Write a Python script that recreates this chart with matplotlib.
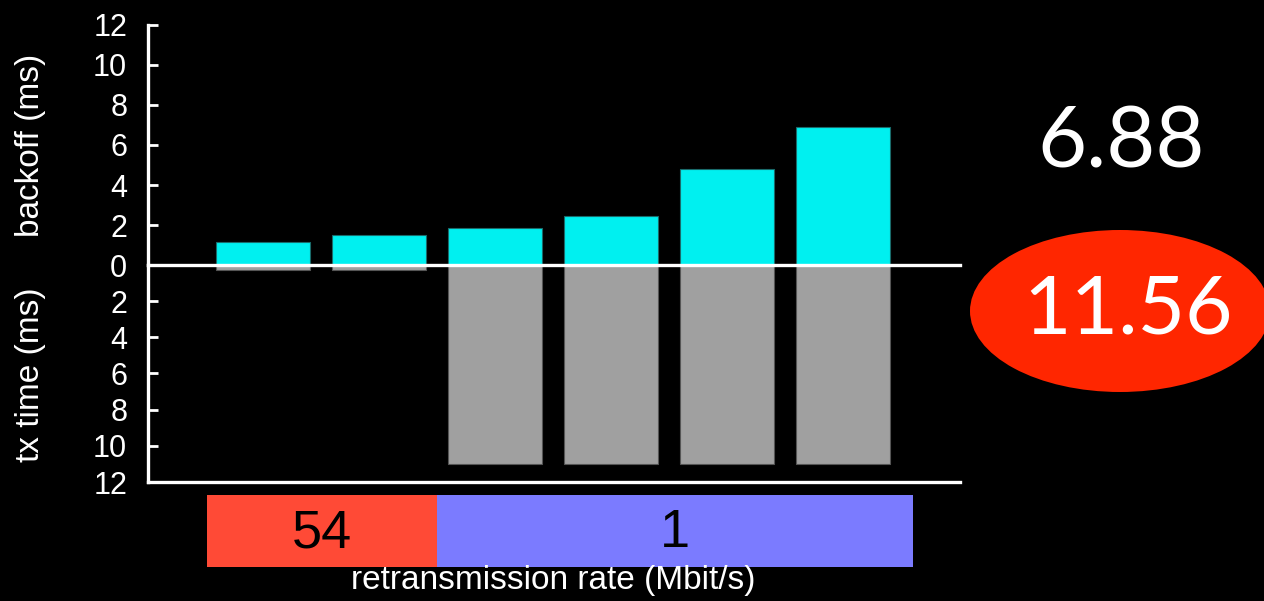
import matplotlib
matplotlib.use("Agg")
import matplotlib.pyplot as plt
from matplotlib.patches import Ellipse, Rectangle

# Per-attempt timings (ms)
attempts = [1, 2, 3, 4, 5, 6]
backoff_ms = [1.16, 1.48, 1.87, 2.43, 4.80, 6.88]
tx_time_ms = [0.25, 0.25, 11.0, 11.0, 11.0, 11.0]
y_ticks = [0, 2, 4, 6, 8, 10, 12]

# Retransmission rate groups (Mbit/s) and how many attempts each covers
rate_labels = ["54", "1"]
rate_counts = [2, 4]
rate_colors = ["#FF4A36", "#7B7BFF"]

max_backoff_text = "6.88"
total_text = "11.56"

W, H = 1264, 601
fig = plt.figure(figsize=(W / 100, H / 100), dpi=100, facecolor="black")


def px_axes(x0, y0, x1, y1):
    return fig.add_axes([x0 / W, 1 - y1 / H, (x1 - x0) / W, (y1 - y0) / H])


xlim = (-0.991, 6.009)
bar_w = 0.81
xs = [a - 1 for a in attempts]
sans = ["Liberation Sans", "DejaVu Sans"]
tick_font = dict(family=sans, size=22)

ax_top = px_axes(148, 25, 960, 265)
ax_bot = px_axes(148, 265, 960, 482)

for ax in (ax_top, ax_bot):
    ax.set_facecolor("black")
    ax.set_xlim(*xlim)
    ax.set_xticks([])
    for s in ("top", "right"):
        ax.spines[s].set_visible(False)
    ax.spines["left"].set_color("white")
    ax.spines["left"].set_linewidth(2.4)
    ax.tick_params(axis="y", direction="in", length=7, width=2, color="white",
                   labelcolor="white", pad=15)

ax_top.bar(xs, backoff_ms, width=bar_w, color="#00F0F0", edgecolor="#1A6B6B",
           linewidth=0.8, zorder=2)
ax_top.set_ylim(0, 12)
ax_top.set_yticks(y_ticks)
ax_top.set_yticklabels([str(t) for t in y_ticks], fontdict=tick_font)
ax_top.spines["bottom"].set_visible(False)

ax_bot.bar(xs, tx_time_ms, width=bar_w, color="#A0A0A0", edgecolor="#555555",
           linewidth=0.8, zorder=2)
ax_bot.set_ylim(12, 0)
ax_bot.set_yticks(y_ticks[1:])
ax_bot.set_yticklabels([str(t) for t in y_ticks[1:]], fontdict=tick_font)
ax_bot.spines["bottom"].set_color("white")
ax_bot.spines["bottom"].set_linewidth(2.4)
ax_bot.axhline(0, color="white", linewidth=2.4, zorder=5, clip_on=False)

# Rate band below the bars
ax_band = px_axes(148, 495, 960, 567)
ax_band.set_xlim(*xlim)
ax_band.set_ylim(0, 1)
ax_band.axis("off")
edges = [-0.48]
for c in rate_counts:
    edges.append(edges[-1] + c)
edges[-1] = 5.6
edges[1] = 1.5
for lab, col, a, b in zip(rate_labels, rate_colors, edges[:-1], edges[1:]):
    ax_band.add_patch(Rectangle((a, 0), b - a, 1, facecolor=col, edgecolor="none"))
    ax_band.text((a + b) / 2, 0.47, lab, ha="center", va="center", color="black",
                 fontsize=39, family=sans)

fig.text(553 / W, 1 - 581 / H, "retransmission rate (Mbit/s)", ha="center",
         va="center", color="white", fontsize=24, family=sans)

lab_font = dict(color="white", fontsize=24, rotation=90, ha="center", va="center",
                family=sans)
fig.text(31 / W, 1 - 145 / H, "backoff (ms)", **lab_font)
fig.text(31 / W, 1 - 375 / H, "tx time (ms)", **lab_font)

# Summary figures on the right
fig.text(1121 / W, 1 - 143 / H, max_backoff_text, ha="center", va="center",
         color="white", fontsize=61, family=["Lato", "DejaVu Sans"])
fig.patches.append(Ellipse((1120 / W, 1 - 311 / H), 300 / W, 162 / H,
                           transform=fig.transFigure, facecolor="#FF2600",
                           edgecolor="none"))
fig.text(1128 / W, 1 - 311 / H, total_text, ha="center", va="center",
         color="white", fontsize=59, family=["Lato", "DejaVu Sans"])

fig.savefig("out.png", dpi=100, facecolor="black")
